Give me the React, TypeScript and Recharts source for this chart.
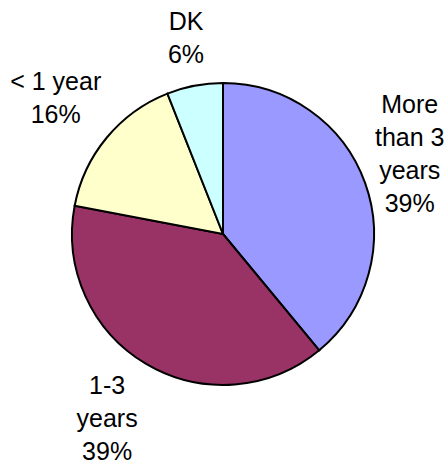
import { PieChart, Pie, Cell } from 'recharts'

document.body.style.margin = '0'

const categories = ['More than 3 years', '1-3 years', '< 1 year', 'DK']
const shares = [39, 39, 16, 6]
// how Excel wrapped each category name
const labelLines = [['More', 'than 3', 'years'], ['1-3', 'years'], ['< 1 year'], ['DK']]
const COLORS = ['#9999FF', '#993366', '#FFFFCC', '#CCFFFF']
// Excel nudges labels a little off the mid-angle ray
const LABEL_NUDGE = [
  [-9, -10],
  [-10, 5],
  [-7, -4],
  [2, 8],
]

const data = categories.map((name, i) => ({ name, value: shares[i] }))

const RAD = Math.PI / 180
const LINE_H = 33
const CAP_H = 18

function renderLabel(props: any) {
  const { cx, cy, midAngle, outerRadius, index, value } = props
  const r = outerRadius + 57
  const x = cx + r * Math.cos(-midAngle * RAD) + LABEL_NUDGE[index][0]
  const y = cy + r * Math.sin(-midAngle * RAD) + LABEL_NUDGE[index][1]
  const lines = [...labelLines[index], `${value}%`]
  const first = y - ((lines.length - 1) * LINE_H + CAP_H) / 2 + CAP_H
  return (
    <text
      key={`lbl-${index}`}
      x={x}
      y={first}
      textAnchor="middle"
      fill="#000"
      fontSize={25}
      fontFamily="'Liberation Sans', Arial, sans-serif"
    >
      {lines.map((t, i) => (
        <tspan key={i} x={x} y={first + i * LINE_H}>
          {t}
        </tspan>
      ))}
    </text>
  )
}

export default function App() {
  return (
    <PieChart width={448} height={464} margin={{ top: 0, right: 0, bottom: 0, left: 0 }}>
      <Pie
        data={data}
        dataKey="value"
        nameKey="name"
        cx={223}
        cy={234}
        outerRadius={151}
        startAngle={90}
        endAngle={-270}
        stroke="#000"
        strokeWidth={2}
        label={renderLabel}
        labelLine={false}
        isAnimationActive={false}
      >
        {data.map((d, i) => (
          <Cell key={d.name} fill={COLORS[i]} />
        ))}
      </Pie>
    </PieChart>
  )
}
